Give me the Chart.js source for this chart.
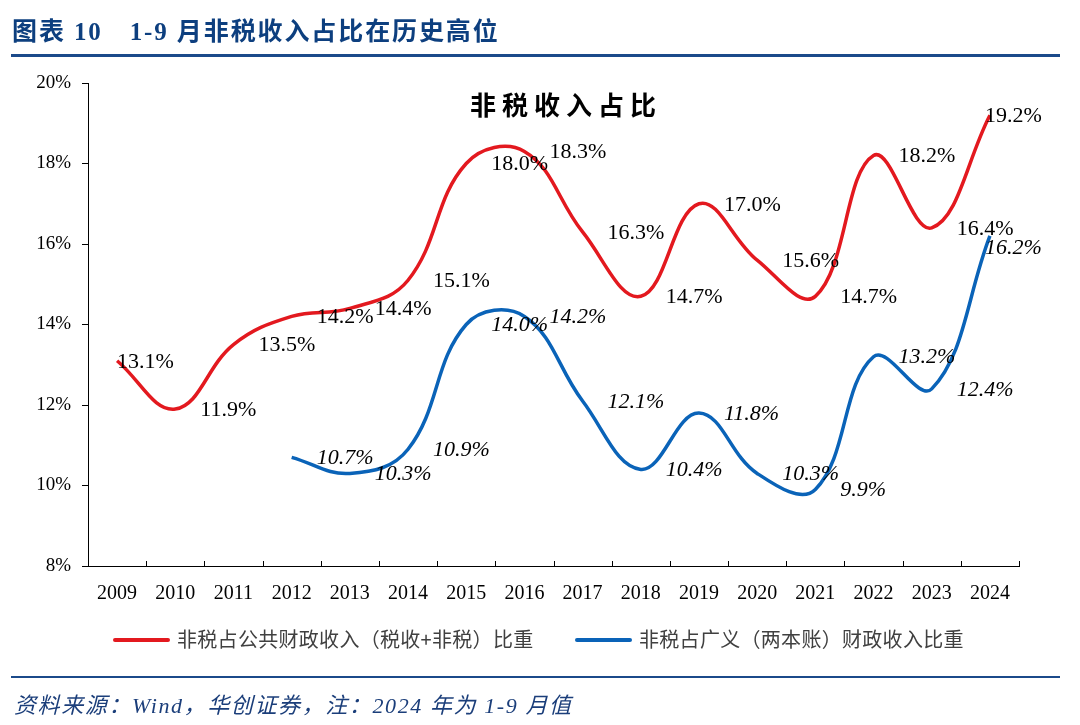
<!DOCTYPE html>
<html>
<head>
<meta charset="utf-8">
<script src="https://cdn.jsdelivr.net/npm/chart.js@4"></script>
<style>
  html, body { margin: 0; padding: 0; background: #fff; }
  #wrap { position: relative; width: 1080px; height: 725px; overflow: hidden; }
  #box { position: absolute; left: 0; top: 0; width: 1080px; height: 725px; }
  .title { position: absolute; left: 12px; top: 11px; white-space: pre; color: #0D3F7F;
           font: bold 25px "Liberation Serif", "Noto Sans CJK SC"; letter-spacing: 1.9px; }
  .rule { position: absolute; left: 11px; width: 1049px; background: #1B4A8A; }
  .ctitle { position: absolute; left: 446px; width: 240px; top: 85px; text-align: center;
            font: bold 26px "Noto Sans CJK SC"; letter-spacing: 6px; color: #000; }
  .leg { position: absolute; top: 624px; font: 20px "Noto Sans CJK SC"; color: #404040; white-space: nowrap; letter-spacing: 0.3px; }
  .leg i { display: inline-block; width: 57px; height: 4px; border-radius: 2px; vertical-align: middle; margin-right: 7px; position: relative; top: -2px; }
  .foot { position: absolute; left: 14px; top: 687px; white-space: pre; color: #1B3E7A;
          font: italic 22px "Liberation Serif", "Noto Sans CJK SC"; letter-spacing: 1.6px; }
</style>
</head>
<body>
<div id="wrap">
  <div id="box"><canvas id="c"></canvas></div>
  <div class="title">图表 10　1-9 月非税收入占比在历史高位</div>
  <div class="rule" style="top:54px;height:3px;"></div>
  <div class="ctitle">非税收入占比</div>
  <div class="leg" style="left:113px;"><i style="background:#E3191F"></i>非税占公共财政收入（税收+非税）比重</div>
  <div class="leg" style="left:575px;"><i style="background:#0A63B8"></i>非税占广义（两本账）财政收入比重</div>
  <div class="rule" style="top:676px;height:2px;"></div>
  <div class="foot">资料来源：Wind，华创证券，注：2024 年为 1-9 月值</div>
</div>
<script>
// categories
const years = ['2009', '2010', '2011', '2012', '2013', '2014', '2015', '2016',
               '2017', '2018', '2019', '2020', '2021', '2022', '2023', '2024'];

// 非税占公共财政收入（税收+非税）比重, %
const publicShare = [13.1, 11.9, 13.5, 14.2, 14.4, 15.1, 18.0, 18.3,
                     16.3, 14.7, 17.0, 15.6, 14.7, 18.2, 16.4, 19.2];

// 非税占广义（两本账）财政收入比重, %
const broadShare = [null, null, null, 10.7, 10.3, 10.9, 14.0, 14.2,
                    12.1, 10.4, 11.8, 10.3, 9.9, 13.2, 12.4, 16.2];

const seriesNames = ['非税占公共财政收入（税收+非税）比重', '非税占广义（两本账）财政收入比重'];

// y axis: 8% .. 20%
const yMin = 8;
const yMax = 20;
const yStep = 2;

// value labels, Excel style: to the right of each point
const pointLabels = {
  id: 'pointLabels',
  afterDatasetsDraw(chart) {
    const ctx = chart.ctx;
    const last = years.length - 1;
    const boxes = [];
    chart.data.datasets.forEach((ds, di) => {
      const meta = chart.getDatasetMeta(di);
      ctx.save();
      ctx.font = (di === 1 ? 'italic ' : '') + '22px "Liberation Serif"';
      ctx.fillStyle = '#000';
      ctx.textAlign = 'left';
      ctx.textBaseline = 'middle';
      meta.data.forEach((pt, i) => {
        const v = ds.data[i];
        if (v == null) return;
        const text = v.toFixed(1) + '%';
        const w = ctx.measureText(text).width;
        let x = pt.x + 25;
        if (i === 0) x = pt.x;
        if (i === last) x = pt.x - 5;
        let y = pt.y;
        // push down if it sits on a label of the other series
        boxes.forEach(b => {
          if (b.di !== di && x < b.x + b.w && x + w > b.x && Math.abs(y - b.y) < 16) y = b.y + 19;
        });
        boxes.push({ di, x, y, w });
        ctx.fillText(text, x, y + 1);
      });
      ctx.restore();
    });
  }
};

// small tick marks on the x axis, between the categories, pointing up
const xTicks = {
  id: 'xTicks',
  afterDraw(chart) {
    const { ctx, chartArea } = chart;
    const n = years.length;
    const step = (chartArea.right - chartArea.left) / n;
    ctx.save();
    ctx.strokeStyle = '#000';
    ctx.lineWidth = 1;
    ctx.beginPath();
    for (let i = 0; i <= n; i++) {
      const x = Math.round(chartArea.left + i * step) + 0.5;
      ctx.moveTo(x, chartArea.bottom);
      ctx.lineTo(x, chartArea.bottom - 5);
    }
    ctx.stroke();
    ctx.restore();
  }
};

new Chart(document.getElementById('c'), {
  type: 'line',
  data: {
    labels: years,
    datasets: [
      { label: seriesNames[0], data: publicShare, borderColor: '#E3191F', borderWidth: 3.5,
        pointRadius: 0, tension: 0.4, fill: false },
      { label: seriesNames[1], data: broadShare, borderColor: '#0A63B8', borderWidth: 3.5,
        pointRadius: 0, tension: 0.4, fill: false }
    ]
  },
  options: {
    responsive: true,
    maintainAspectRatio: false,
    animation: false,
    layout: { padding: { left: 28, right: 61, top: 83, bottom: 119 } },
    plugins: { legend: { display: false }, tooltip: { enabled: false } },
    scales: {
      x: {
        offset: true,
        grid: { display: false },
        border: { display: true, color: '#000', width: 1 },
        ticks: { color: '#000', padding: 8, maxRotation: 0, autoSkip: false,
                 font: { family: 'Liberation Serif', size: 20 } },
        afterFit(scale) { scale.height = 40; }
      },
      y: {
        min: yMin,
        max: yMax,
        grid: { display: true, drawOnChartArea: false, drawTicks: true, tickLength: 6, color: '#000' },
        border: { display: true, color: '#000', width: 1 },
        ticks: { stepSize: yStep, color: '#000', padding: 11,
                 font: { family: 'Liberation Serif', size: 19 },
                 callback: v => v + '%' },
        afterFit(scale) { scale.width = 60; }
      }
    }
  },
  plugins: [pointLabels, xTicks]
});
</script>
</body>
</html>
